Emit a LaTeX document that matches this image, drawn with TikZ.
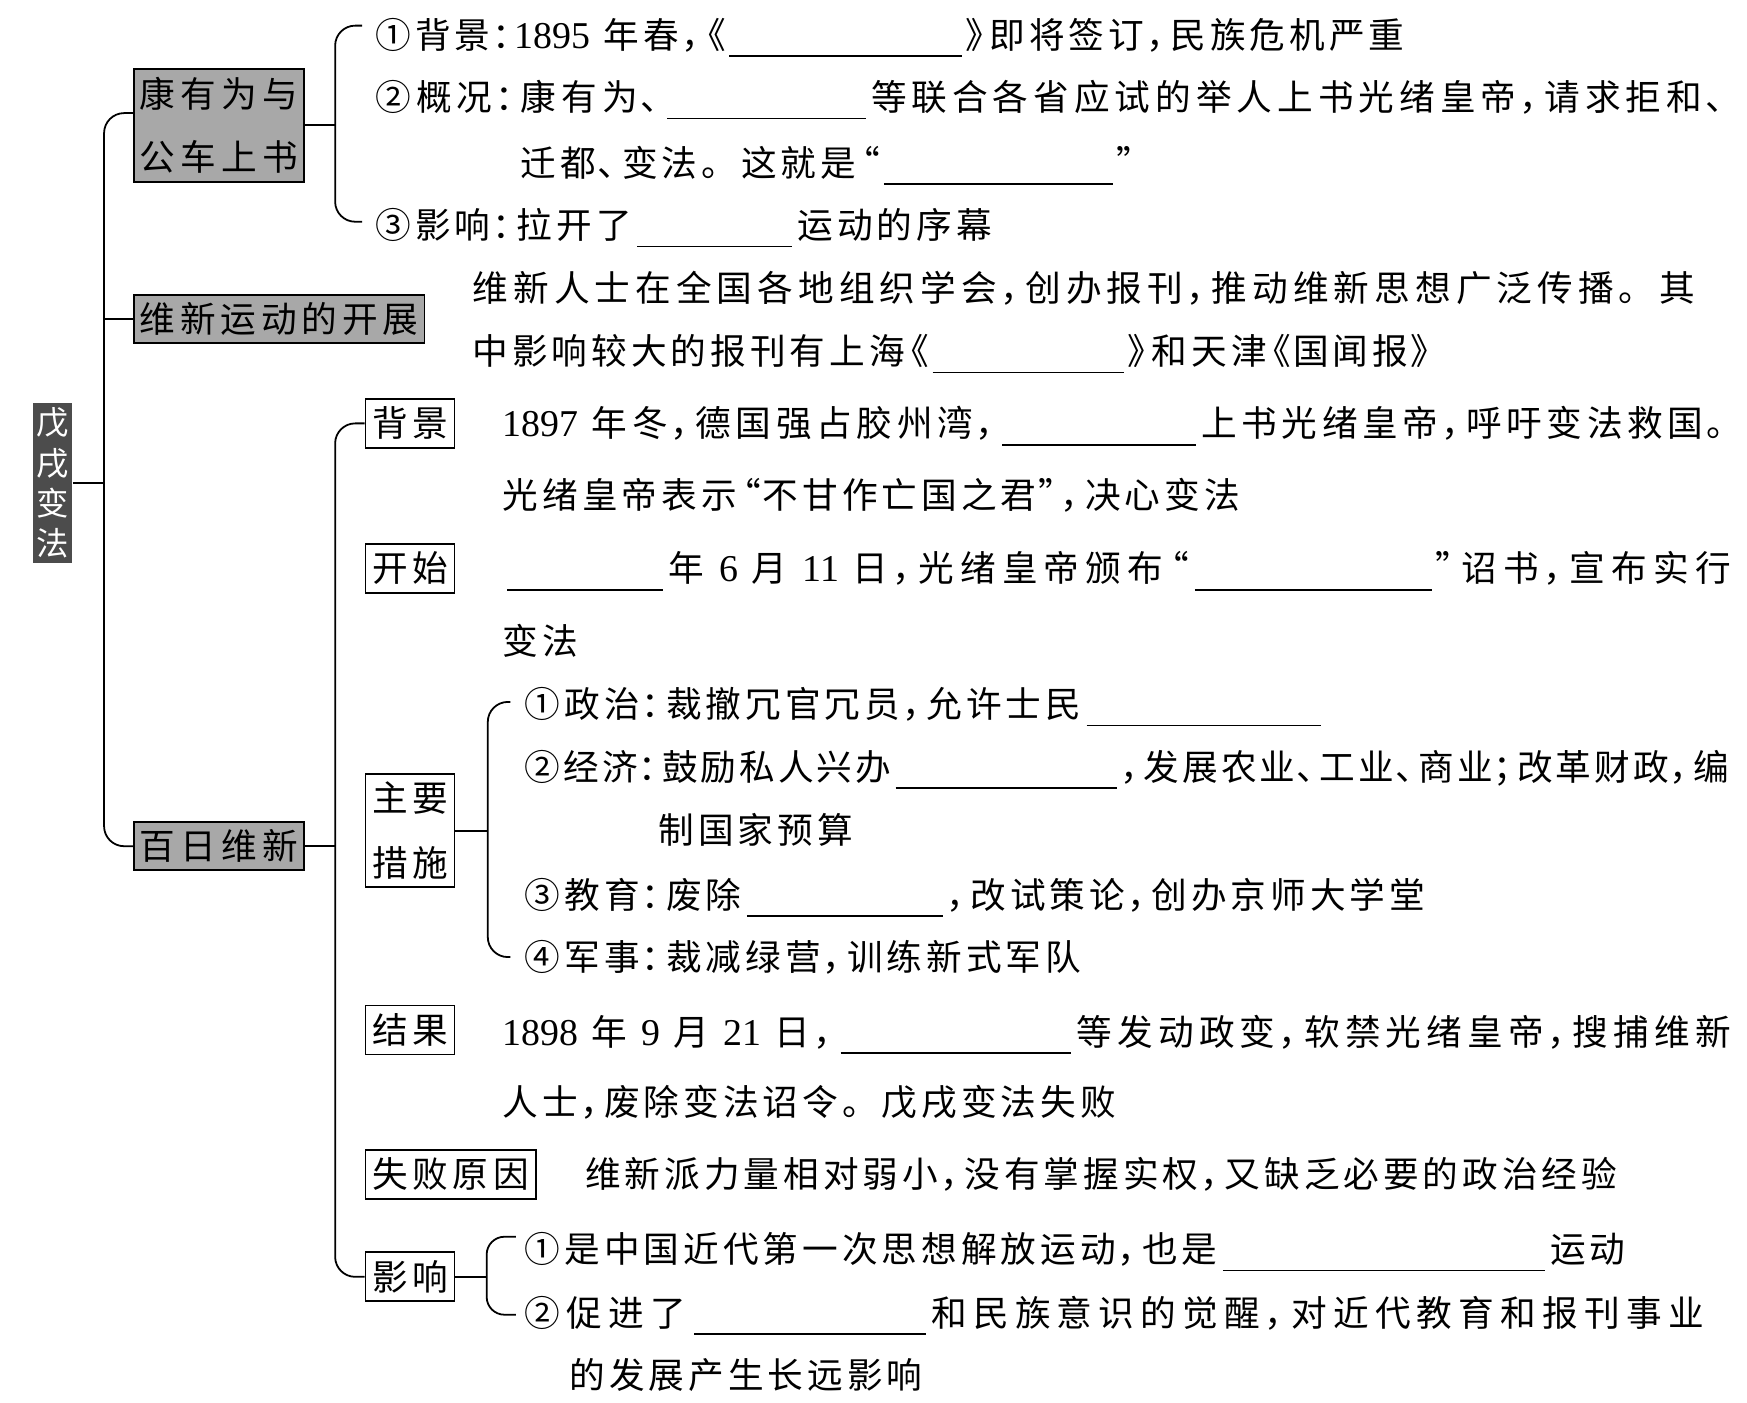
\documentclass[tikz,border=0pt]{standalone}
\usepackage{fontspec}
\usetikzlibrary{calc}
\newfontfamily\cjk{Noto Sans CJK SC}
\newfontfamily\lat{Liberation Serif}
\newlength\ux \setlength\ux{0.5pt}
\newlength\gp \setlength\gp{17.8pt}
\newlength\gq \setlength\gq{10pt}
\def\cgN#1{\makebox[\gq][l]{#1}}
\def\cgR#1{\makebox[\gq][r]{#1}}
\def\cgB#1{%
  \ifx，#1\cgN{#1}\else
  \ifx、#1\cgN{#1}\else
  \ifx：#1\cgN{#1}\else
  \ifx；#1\cgN{#1}\else
  \ifx”#1\cgN{#1}\else
  \ifx》#1\cgN{#1}\else
  \ifx“#1\cgR{#1}\else
  \ifx《#1\cgR{#1}\else
  \makebox[\gp]{#1}%
  \fi\fi\fi\fi\fi\fi\fi\fi}
\def\cg#1{\cgA#1\relax}
\def\cgA#1{\ifx\relax#1\else\cgB{#1}\hskip 0pt plus 1pt minus 2pt\relax\expandafter\cgA\fi}
\newcommand\jrow[2]{\hbox to #1\ux{#2\unskip}}
\newcommand\dgt[1]{{\lat\fontsize{17}{19}\selectfont #1}}
\newcommand\lsp{\hspace{5pt}}
\newcommand\blank[1]{\makebox[#1\ux]{\raisebox{-3.9pt}[0pt][0pt]{\rule{\dimexpr#1\ux-6\ux\relax}{0.7pt}}}}
\begin{document}
\begin{tikzpicture}[x=0.5pt,y=-0.5pt,
  row/.style={anchor=west, inner sep=0pt, text height=14.1pt, text depth=1.9pt,
    font=\cjk\fontsize{16}{19}\selectfont},
  lbl/.style={inner sep=0pt, align=center, line width=0.8pt,
    font=\cjk\fontsize{16}{28.5}\selectfont},
  gbox/.style={lbl, draw=black, fill=black!34},
  wbox/.style={lbl, draw=black, fill=white},
  dbox/.style={inner sep=0pt, align=center, fill=black!70, text=white,
    font=\cjk\fontsize{14.5}{18.15}\selectfont},
  conn/.style={draw=black, line width=0.8pt, rounded corners=9pt}]
\useasboundingbox (0,0) rectangle (1568,1259);
\fill[white] (0,0) rectangle (1568,1259);

% ---------- text rows ----------
\node[row] (r1) at (335,31) {\cg{①背景：}\dgt{1895}\lsp\cg{年春，《}\blank{215}\cg{》即将签订，民族危机严重}};
\node[row] (r2) at (335,87) {\jrow{1215}{\cg{②概况：康有为、}\blank{184}\cg{等联合各省应试的举人上书光绪皇帝，请求拒和、}}};
\node[row] (r3) at (465,146) {\cg{迁都、变法。这就是“}\blank{212}\cg{”}};
\node[row] (r4) at (335,202) {\cg{③影响：拉开了}\blank{145}\cg{运动的序幕}};
\node[row] (r5) at (422,258) {\jrow{1101}{\cg{维新人士在全国各地组织学会，创办报刊，推动维新思想广泛传播。其}}};
\node[row] (r6) at (422,315) {\cg{中影响较大的报刊有上海《}\blank{178}\cg{》和天津《国闻报》}};
\node[row] (r7) at (451,380) {\jrow{1100}{\dgt{1897}\lsp\cg{年冬，德国强占胶州湾，}\blank{180}\cg{上书光绪皇帝，呼吁变法救国}\cgN{。}}};
\node[row] (r8) at (449,444) {\cg{光绪皇帝表示“不甘作亡国之君”，决心变法}};
\node[row] (r9) at (452,510) {\jrow{1103}{\blank{146}\cg{年}\lsp\dgt{6}\lsp\cg{月}\lsp\dgt{11}\lsp\cg{日，光绪皇帝颁布“}\blank{219}\cg{”诏书，宣布实行}}};
\node[row] (r10) at (449,575) {\cg{变法}};
\node[row] (r11) at (469,632) {\cg{①政治：裁撤冗官冗员，允许士民}\blank{216}};
\node[row] (r12) at (469,688) {\jrow{1084}{\cg{②经济：鼓励私人兴办}\blank{205}\cg{，发展农业、工业、商业；改革财政，编}}};
\node[row] (r13) at (589,745) {\cg{制国家预算}};
\node[row] (r14) at (469,803) {\cg{③教育：废除}\blank{182}\cg{，改试策论，创办京师大学堂}};
\node[row] (r15) at (469,859) {\cg{④军事：裁减绿营，训练新式军队}};
\node[row] (r16) at (451,926) {\jrow{1104}{\dgt{1898}\lsp\cg{年}\lsp\dgt{9}\lsp\cg{月}\lsp\dgt{21}\lsp\cg{日，}\blank{213}\cg{等发动政变，软禁光绪皇帝，搜捕维新}}};
\node[row] (r17) at (449,989) {\cg{人士，废除变法诏令。戊戌变法失败}};
\node[row] (r18) at (523,1054) {\cg{维新派力量相对弱小，没有掌握实权，又缺乏必要的政治经验}};
\node[row] (r19) at (469,1121) {\cg{①是中国近代第一次思想解放运动，也是}\blank{295}\cg{运动}};
\node[row] (r20) at (469,1178) {\jrow{1062}{\cg{②促进了}\blank{214}\cg{和民族意识的觉醒，对近代教育和报刊事业}}};
\node[row] (r21) at (509,1234) {\cg{的发展产生长远影响}};

% ---------- label boxes ----------
\node[dbox, minimum width=17.5pt, minimum height=71.5pt] (wuxu) at (47.5,433.5) {戊\\戌\\变\\法};
\setlength\gp{18.35pt}
\node[gbox, minimum width=76.5pt, minimum height=50.5pt] (kang) at (196.5,112.5) {\cg{康有为与}\\\cg{公车上书}};
\setlength\gp{18.2pt}
\node[gbox, minimum width=130.5pt, minimum height=21.5pt] (weixin) at (250.5,286.5) {\cg{维新运动的开展}};
\setlength\gp{18.5pt}
\node[gbox, minimum width=76.5pt, minimum height=21.5pt] (bairi) at (196.5,759.5) {\cg{百日维新}};
\setlength\gp{18pt}
\node[wbox, minimum width=40pt, minimum height=22pt] (beijing) at (368,380) {\cg{背景}};
\node[wbox, minimum width=40pt, minimum height=22pt] (kaishi) at (368,510) {\cg{开始}};
\node[wbox, minimum width=40pt, minimum height=50.5pt, font=\cjk\fontsize{16}{29}\selectfont] (zy) at (368,745.5) {\cg{主要}\\\cg{措施}};
\node[wbox, minimum width=40pt, minimum height=22pt] (jg) at (368,924.5) {\cg{结果}};
\node[wbox, minimum width=76.5pt, minimum height=22pt] (sb) at (404.5,1054) {\cg{失败原因}};
\node[wbox, minimum width=40pt, minimum height=22pt] (yx) at (368,1146) {\cg{影响}};

% ---------- connectors ----------
\coordinate (ka) at ($(kang.west)+(0,-11)$);
\coordinate (mj) at ($(wuxu.east)+(28,0)$);
\draw[conn] (ka) -| (mj) |- (bairi.west);
\draw[conn] (wuxu.east) -- (mj);
\draw[conn] (weixin.west) -- (weixin.west -| mj);

\coordinate (kj) at ($(kang.east)+(27,0)$);
\coordinate (kt) at ($(r1.west)+(-10,-8)$);
\coordinate (kb) at ($(r4.west)+(-10,-3)$);
\draw[conn] (kang.east) -- (kj);
\draw[conn] (kt) -| (kj) |- (kb);

\coordinate (bj) at ($(bairi.east)+(27,0)$);
\draw[conn] (bairi.east) -- (bj);
\draw[conn] (beijing.west) -| (bj) |- (yx.west);

\coordinate (zj) at ($(zy.east)+(29,0)$);
\coordinate (zt) at ($(r11.west)+(-11,-2)$);
\coordinate (zb) at ($(r15.west)+(-11,0)$);
\draw[conn] (zy.east) -- (zj);
\draw[conn] (zt) -| (zj) |- (zb);

\coordinate (yj) at ($(yx.east)+(28,0)$);
\coordinate (yt) at ($(r19.west)+(-6,-11)$);
\coordinate (yb) at ($(r20.west)+(-6,2)$);
\draw[conn] (yx.east) -- (yj);
\draw[conn, rounded corners=8pt] (yt) -| (yj) |- (yb);
\end{tikzpicture}
\end{document}
